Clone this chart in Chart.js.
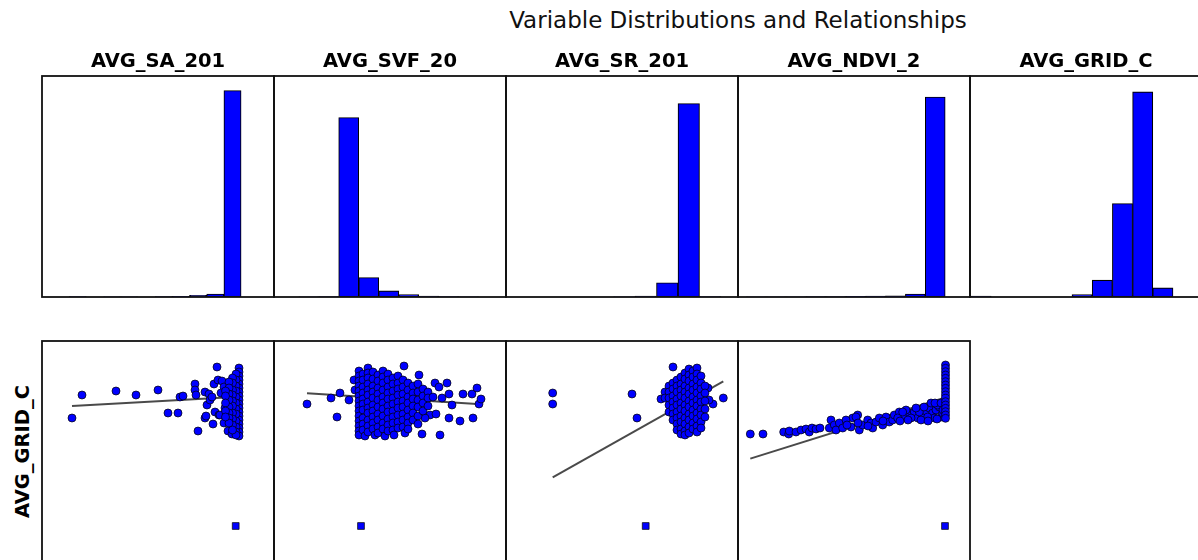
<!DOCTYPE html>
<html>
<head>
<meta charset="utf-8">
<title>Variable Distributions and Relationships</title>
<script src="https://cdn.jsdelivr.net/npm/chart.js@4.4.0/dist/chart.umd.min.js"></script>
<style>
    html, body { margin: 0; padding: 0; background: #fff; overflow: hidden; }
    body { width: 1198px; height: 560px; position: relative; font-family: "DejaVu Sans", sans-serif; color: #000; }
    .title { position: absolute; top: 9px; left: 438px; width: 600px; text-align: center; font-size: 23px; line-height: 23px; white-space: nowrap; color: #111; }
    .col-title { position: absolute; top: 51px; width: 232px; text-align: center; font-size: 19.5px; line-height: 19px; font-weight: bold; white-space: nowrap; }
    .row-label { position: absolute; left: -78px; top: 442px; width: 200px; height: 19px; text-align: center; font-size: 19.5px; line-height: 19px; font-weight: bold; transform: rotate(-90deg); white-space: nowrap; }
    canvas { position: absolute; }
</style>
</head>
<body>
<div class="title">Variable Distributions and Relationships</div>
<div class="row-label">AVG_GRID_C</div>
<div id="panels"></div>

<script>
// ========================================
// DATA (arbitrary units)
// ========================================

const columns = ['AVG_SA_201', 'AVG_SVF_20', 'AVG_SR_201', 'AVG_NDVI_2', 'AVG_GRID_C'];

// histogram bins: first edge + width, counts per bin
const histBinStart = [2.71, 2.47, 0.0, 0.82, 0.1];
const histBinWidth = [1.72, 2.0, 2.15, 1.99, 2.02];
const histCountsSA = [2, 0, 1, 1, 0, 2, 3, 8, 15, 1018];
const histCountsSVF = [1, 2, 885, 96, 30, 12, 5, 2, 1, 0];
const histCountsSR = [0, 0, 0, 0, 0, 1, 5, 70, 954, 2];
const histCountsNDVI = [1, 1, 1, 2, 2, 3, 4, 6, 15, 986];
const histCountsGRID = [3, 0, 0, 0, 0, 8, 54, 299, 656, 29];
const histYMax = [1090, 1090, 1090, 1090, 707];

// scatter: [x, AVG_GRID_C]
const gridVsSA = [
    [3.0, 24.4], [4.0, 26.7], [7.4, 27.1], [9.4, 26.7], [11.6, 27.2], [12.6, 24.9], [13.6, 24.9],
    [13.8, 26.5], [14.1, 26.6], [15.3, 27.8], [15.3, 27.2], [15.4, 26.7], [15.6, 23.1], [16.3, 24.4],
    [16.4, 24.6], [17.1, 23.8], [17.5, 29.5], [16.3, 27.0], [16.7, 26.8], [16.5, 25.7], [16.8, 26.2],
    [17.2, 27.8], [17.6, 28.2], [18.0, 28.1], [18.2, 27.5], [17.3, 25.0], [17.7, 24.7], [18.2, 23.9],
    [18.3, 25.4], [17.0, 26.5], [17.9, 26.9], [18.6, 23.1], [19.0, 22.8], [17.8, 24.7],
    [19.7, 29.4], [19.7, 29.0], [19.7, 28.6], [19.7, 28.2], [19.7, 27.8], [19.7, 27.4], [19.7, 27.0],
    [19.7, 26.6], [19.7, 26.2], [19.7, 25.8], [19.7, 25.4], [19.7, 25.0], [19.7, 24.6], [19.7, 24.2],
    [19.7, 23.8], [19.7, 23.4], [19.7, 23.0], [19.7, 22.6],
    [19.4, 28.8], [19.4, 28.2], [19.4, 27.6], [19.4, 27.1], [19.4, 26.5], [19.4, 25.9], [19.4, 25.3],
    [19.4, 24.8], [19.4, 24.1], [19.4, 23.5], [19.4, 23.0], [19.4, 22.7],
    [19.05, 28.4], [19.05, 27.9], [19.05, 27.2], [19.05, 26.7], [19.05, 26.1], [19.05, 25.6],
    [19.05, 24.9], [19.05, 24.3], [19.05, 23.7], [19.05, 23.2],
    [18.7, 28.0], [18.7, 27.4], [18.7, 26.8], [18.7, 26.2], [18.7, 25.5], [18.7, 24.9], [18.7, 24.4], [18.7, 23.9],
    [18.35, 27.1], [18.35, 26.6], [18.35, 25.9], [18.35, 25.1], [18.35, 24.5]
];

const gridVsSVF = [
    [3.3, 25.8], [5.7, 26.4], [6.3, 24.5], [6.6, 26.9], [7.5, 26.2], [8.0, 28.2], [8.1, 27.2],
    [13.0, 29.6], [14.5, 28.7], [16.1, 27.9], [16.5, 27.5], [16.8, 26.4], [17.3, 27.9], [17.5, 26.8],
    [17.5, 24.4], [17.8, 25.7], [18.6, 24.1], [18.9, 26.8], [19.8, 26.8], [19.9, 24.4], [20.3, 27.4],
    [20.5, 25.8], [20.7, 26.3], [16.6, 22.7], [14.8, 22.8], [15.6, 24.7], [16.2, 24.8], [15.1, 24.4],
    [8.5, 29.1], [8.5, 28.6], [8.5, 28.1], [8.5, 27.6], [8.5, 27.1], [8.5, 26.6], [8.5, 26.1],
    [8.5, 25.6], [8.5, 25.1], [8.5, 24.6], [8.5, 24.1], [8.5, 23.6], [8.5, 23.1], [8.5, 22.7],
    [8.9, 28.8], [8.9, 28.2], [8.9, 27.5], [8.9, 26.9], [8.9, 26.3], [8.9, 25.8], [8.9, 25.2],
    [8.9, 24.4], [8.9, 23.8], [8.9, 23.2], [9.1, 22.6],
    [9.4, 29.4], [9.4, 28.9], [9.4, 28.4], [9.4, 27.8], [9.4, 27.2], [9.4, 26.7], [9.4, 26.0],
    [9.4, 25.4], [9.4, 24.9], [9.4, 24.2], [9.4, 23.6], [9.4, 23.0],
    [9.9, 29.0], [9.9, 28.3], [9.9, 27.6], [9.9, 27.0], [9.9, 26.4], [9.9, 25.7], [9.9, 25.1],
    [9.9, 24.5], [9.9, 23.9], [9.9, 23.3], [10.1, 22.7],
    [10.4, 28.7], [10.4, 28.1], [10.4, 27.4], [10.4, 26.8], [10.4, 26.2], [10.4, 25.5], [10.4, 24.8],
    [10.4, 24.2], [10.4, 23.5], [10.4, 22.9],
    [10.9, 29.1], [10.9, 28.5], [10.9, 27.9], [10.9, 27.2], [10.9, 26.5], [10.9, 25.9], [10.9, 25.3],
    [10.9, 24.6], [10.9, 23.9], [10.9, 23.3], [11.1, 22.6],
    [11.4, 28.8], [11.4, 28.2], [11.4, 27.5], [11.4, 26.9], [11.4, 26.3], [11.4, 25.6], [11.4, 25.0],
    [11.4, 24.3], [11.4, 23.7], [11.4, 23.1],
    [11.9, 28.4], [11.9, 27.8], [11.9, 27.1], [11.9, 26.4], [11.9, 25.8], [11.9, 25.1], [11.9, 24.5],
    [11.9, 23.9], [11.9, 23.2], [12.0, 22.7],
    [12.4, 28.6], [12.4, 27.9], [12.4, 27.3], [12.4, 26.7], [12.4, 26.0], [12.4, 25.4], [12.4, 24.7],
    [12.4, 24.0], [12.4, 23.4],
    [12.9, 28.2], [12.9, 27.5], [12.9, 26.8], [12.9, 26.1], [12.9, 25.5], [12.9, 24.8], [12.9, 24.2], [12.9, 23.5],
    [13.1, 22.9],
    [13.4, 27.9], [13.4, 27.2], [13.4, 26.5], [13.4, 25.9], [13.4, 25.2], [13.4, 24.5], [13.4, 23.9], [13.4, 23.3],
    [13.9, 27.6], [13.9, 26.9], [13.9, 26.3], [13.9, 25.6], [13.9, 24.9], [13.9, 24.2],
    [14.4, 27.8], [14.4, 27.0], [14.4, 26.2], [14.4, 25.5], [14.4, 24.6], [14.4, 23.8],
    [14.9, 27.3], [14.9, 26.6], [14.9, 25.9], [14.9, 25.1],
    [15.4, 27.0], [15.4, 26.4], [15.4, 25.6], [15.9, 26.5]
];

const gridVsSR = [
    [4.67, 26.9], [4.67, 25.8], [12.6, 26.8], [13.1, 24.4], [16.7, 29.5], [15.5, 26.3],
    [21.73, 26.4], [20.7, 25.8], [20.2, 27.4], [20.3, 26.2],
    [15.9, 27.0], [15.9, 26.4],
    [16.3, 27.6], [16.3, 27.0], [16.3, 26.4], [16.3, 25.7], [16.3, 25.0],
    [16.7, 27.9], [16.7, 27.3], [16.7, 26.6], [16.7, 26.0], [16.7, 25.4], [16.7, 24.8], [16.7, 24.2],
    [17.1, 28.2], [17.1, 27.6], [17.1, 27.0], [17.1, 26.3], [17.1, 25.7], [17.1, 25.0], [17.1, 24.4],
    [17.1, 23.8], [17.1, 23.2],
    [17.5, 28.5], [17.5, 27.8], [17.5, 27.2], [17.5, 26.6], [17.5, 25.9], [17.5, 25.3], [17.5, 24.6],
    [17.5, 24.0], [17.5, 23.3], [17.5, 22.8],
    [17.9, 28.9], [17.9, 28.3], [17.9, 27.6], [17.9, 27.0], [17.9, 26.4], [17.9, 25.7], [17.9, 25.1],
    [17.9, 24.4], [17.9, 23.8], [17.9, 23.1], [17.9, 22.7],
    [18.3, 29.3], [18.3, 28.7], [18.3, 28.1], [18.3, 27.4], [18.3, 26.8], [18.3, 26.1], [18.3, 25.5],
    [18.3, 24.8], [18.3, 24.2], [18.3, 23.5], [18.3, 22.9],
    [18.7, 29.1], [18.7, 28.5], [18.7, 27.8], [18.7, 27.2], [18.7, 26.5], [18.7, 25.9], [18.7, 25.2],
    [18.7, 24.6], [18.7, 23.9], [18.7, 23.3],
    [19.1, 29.4], [19.1, 28.8], [19.1, 28.2], [19.1, 27.5], [19.1, 26.9], [19.1, 26.2], [19.1, 25.6],
    [19.1, 24.9], [19.1, 24.3], [19.1, 23.6], [19.1, 23.0],
    [19.5, 28.6], [19.5, 27.9], [19.5, 27.3], [19.5, 26.6], [19.5, 26.0], [19.5, 25.3], [19.5, 24.7],
    [19.5, 24.0], [19.5, 23.4],
    [19.9, 27.6], [19.9, 26.9], [19.9, 26.1], [19.9, 25.3], [19.9, 24.5]
];

const gridVsNDVI = [
    [1.23, 22.8], [2.5, 22.8],
    [4.57, 23.0], [5.07, 22.8], [5.13, 23.1], [5.8, 23.0], [6.3, 23.2], [6.8, 23.3], [7.13, 23.0],
    [7.4, 23.4], [7.8, 23.3], [8.2, 23.4], [9.13, 23.4], [9.3, 24.2], [9.63, 23.7], [9.8, 23.2],
    [11.47, 24.4], [11.97, 24.7],
    [10.13, 23.9], [10.47, 23.4], [10.8, 24.2], [11.3, 23.5], [11.8, 24.5], [12.13, 23.2], [12.47, 23.7],
    [12.97, 24.2], [13.3, 23.9], [13.47, 23.4], [13.8, 24.0], [14.13, 24.4], [14.47, 23.7], [14.8, 24.5],
    [15.13, 24.0], [15.47, 24.2], [15.63, 24.7], [16.13, 25.0], [16.63, 24.5], [17.13, 24.9], [17.63, 25.0],
    [17.97, 24.4], [18.47, 24.6], [18.8, 25.1], [19.13, 25.4], [19.47, 24.9], [19.8, 25.2], [20.13, 25.5],
    [20.3, 24.5], [20.47, 24.9], [19.63, 24.4], [18.97, 24.5], [18.3, 24.2], [19.3, 25.9], [19.97, 25.7],
    [18.13, 25.0], [16.8, 25.2], [17.3, 24.4], [15.97, 24.4], [16.47, 25.0],
    [17.8, 25.4], [18.6, 25.5], [19.7, 25.9], [19.0, 24.1], [19.9, 24.3], [17.0, 24.2], [16.2, 24.1],
    [14.5, 24.1], [13.0, 23.6], [20.3, 25.9], [20.5, 25.2], [12.0, 23.9], [10.9, 23.7],
    [20.75, 29.7], [20.75, 29.37], [20.75, 29.03], [20.75, 28.7], [20.75, 28.37], [20.75, 28.03],
    [20.75, 27.7], [20.75, 27.37], [20.75, 27.03], [20.75, 26.7], [20.75, 26.37], [20.75, 26.03],
    [20.75, 25.7], [20.75, 25.37], [20.75, 25.03], [20.75, 24.7], [20.75, 24.37]
];

// one low AVG_GRID_C record, drawn as a square in each scatter
const lowGridX = [19.37, 8.7, 13.97, 20.7];
const lowGridValue = 13.6;

// least-squares fit lines: y = intercept + slope * x
const fitSlope = [0.056, -0.063, 0.563, 0.313];
const fitIntercept = [25.43, 27.08, 15.84, 19.95];

// ========================================
// LAYOUT
// ========================================

const PANEL_W = 232;
const PANEL_H = 221;
const PAD = 6;
const FIRST_X = 42;
const TOP_ROW_Y = 76;
const BOTTOM_ROW_Y = 341;
const X_MAX = 23.2;
const GRID_MIN = 10;
const GRID_MAX = 32.1;

const histCounts = [histCountsSA, histCountsSVF, histCountsSR, histCountsNDVI, histCountsGRID];
const scatterData = [gridVsSA, gridVsSVF, gridVsSR, gridVsNDVI];

// Draws the axes box around the plot area
const framePlugin = {
    id: 'frame',
    afterDraw(chart) {
        const { ctx, chartArea: { left, top, right, bottom } } = chart;
        ctx.save();
        ctx.strokeStyle = '#111';
        ctx.lineWidth = 1.8;
        ctx.strokeRect(left, top, right - left, bottom - top);
        ctx.restore();
    }
};

function addCanvas(x, y) {
    const canvas = document.createElement('canvas');
    canvas.width = PANEL_W + PAD * 2;
    canvas.height = PANEL_H + PAD * 2;
    canvas.style.left = (x - PAD) + 'px';
    canvas.style.top = (y - PAD) + 'px';
    document.getElementById('panels').appendChild(canvas);
    return canvas;
}

function baseOptions() {
    return {
        responsive: false,
        animation: false,
        events: [],
        layout: { padding: PAD },
        plugins: { legend: { display: false }, tooltip: { enabled: false } }
    };
}

// ========================================
// HISTOGRAMS (top row)
// ========================================

function initHistogram(i) {
    const x = FIRST_X + i * PANEL_W;
    const canvas = addCanvas(x, TOP_ROW_Y);

    const title = document.createElement('div');
    title.className = 'col-title';
    title.style.left = x + 'px';
    title.textContent = columns[i];
    document.body.appendChild(title);

    const bars = histCounts[i].map((count, k) => ({
        x: histBinStart[i] + (k + 0.5) * histBinWidth[i],
        y: count
    }));

    const options = baseOptions();
    options.scales = {
        x: { type: 'linear', display: false, min: 0, max: X_MAX, offset: false },
        y: { type: 'linear', display: false, min: 0, max: histYMax[i] }
    };

    new Chart(canvas.getContext('2d'), {
        type: 'bar',
        data: {
            datasets: [{
                label: columns[i],
                data: bars,
                backgroundColor: '#0000ff',
                borderColor: '#000',
                borderWidth: 1.1,
                borderSkipped: false,
                barThickness: 'flex',
                barPercentage: 1,
                categoryPercentage: 1
            }]
        },
        options,
        plugins: [framePlugin]
    });
}

// ========================================
// SCATTERS vs AVG_GRID_C (bottom row)
// ========================================

function initScatter(i) {
    const canvas = addCanvas(FIRST_X + i * PANEL_W, BOTTOM_ROW_Y);

    const points = scatterData[i].map(([x, y]) => ({ x, y }));
    const xs = scatterData[i].map(p => p[0]);
    const fitLine = [Math.min(...xs), Math.max(...xs)].map(x => ({
        x,
        y: fitIntercept[i] + fitSlope[i] * x
    }));

    const options = baseOptions();
    options.scales = {
        x: { type: 'linear', display: false, min: 0, max: X_MAX },
        y: { type: 'linear', display: false, min: GRID_MIN, max: GRID_MAX }
    };

    new Chart(canvas.getContext('2d'), {
        type: 'scatter',
        data: {
            datasets: [
                {
                    label: columns[i],
                    data: points,
                    pointRadius: 4,
                    backgroundColor: '#0000ff',
                    borderColor: '#000',
                    pointBorderWidth: 0.7
                },
                {
                    label: 'low AVG_GRID_C',
                    data: [{ x: lowGridX[i], y: lowGridValue }],
                    pointStyle: 'rect',
                    pointRadius: 4.8,
                    backgroundColor: '#0000ff',
                    borderColor: '#000',
                    pointBorderWidth: 0.7
                },
                {
                    label: 'fit',
                    data: fitLine,
                    showLine: true,
                    fill: false,
                    pointRadius: 0,
                    borderColor: '#4a4a4a',
                    borderWidth: 2
                }
            ]
        },
        options,
        plugins: [framePlugin]
    });
}

document.addEventListener('DOMContentLoaded', () => {
    columns.forEach((_, i) => initHistogram(i));
    scatterData.forEach((_, i) => initScatter(i));
});
</script>
</body>
</html>
